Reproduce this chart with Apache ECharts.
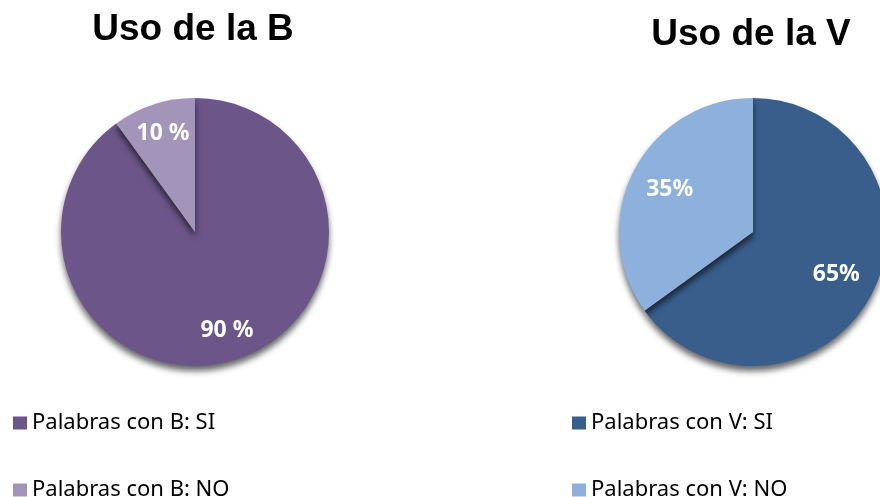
<!DOCTYPE html>
<html>
<head>
<meta charset="utf-8">
<script src="https://cdn.jsdelivr.net/npm/echarts@6/dist/echarts.min.js"></script>
<style>
  html, body { margin: 0; padding: 0; background: #fff; }
  #chart { width: 880px; height: 497px; }
</style>
</head>
<body>
<div id="chart"></div>
<script>
// data
var namesB = ['Palabras con B: SI', 'Palabras con B: NO'];
var valuesB = [90, 10];
var labelsB = ['90 %', '10 %'];
var colorsB = ['#6c5689', '#a394ba'];

var namesV = ['Palabras con V: SI', 'Palabras con V: NO'];
var valuesV = [65, 35];
var labelsV = ['65%', '35%'];
var colorsV = ['#3a5e8c', '#8db0dc'];

var R = 134;
var centerB = [195, 232];
var centerV = [753, 232];

// one legend per entry so they stack like the original
var legendRows = [
    { name: namesB[0], left: 8, top: 407 },
    { name: namesB[1], left: 8, top: 474 },
    { name: namesV[0], left: 567, top: 407 },
    { name: namesV[1], left: 567, top: 474 }
];

function pieData(names, values, colors) {
    return names.map(function (n, i) {
        return { name: n, value: values[i], itemStyle: { color: colors[i] } };
    });
}

function labelData(names, values, labels) {
    return names.map(function (n, i) {
        return { name: n, value: values[i], label: { formatter: labels[i] } };
    });
}

var dom = document.getElementById('chart');
var myChart = echarts.init(dom, null, { renderer: 'canvas' });

var option = {
    animation: false,
    title: [
        {
            text: 'Uso de la B', left: 188, top: 6, textAlign: 'center',
            textStyle: { fontFamily: 'Liberation Sans', fontWeight: 'bold', fontSize: 37, color: '#000' }
        },
        {
            text: 'Uso de la V', left: 746, top: 11, textAlign: 'center',
            textStyle: { fontFamily: 'Liberation Sans', fontWeight: 'bold', fontSize: 37, color: '#000' }
        }
    ],
    legend: legendRows.map(function (r) {
        return {
            data: [r.name], left: r.left, top: r.top,
            itemWidth: 14, itemHeight: 13, icon: 'rect', selectedMode: false,
            textStyle: { fontFamily: 'Noto Sans', fontSize: 22, color: '#000' }
        };
    }),
    series: [
        {
            type: 'pie', center: centerB, radius: [0, R], startAngle: 90,
            clockwise: true, label: { show: false }, labelLine: { show: false },
            itemStyle: { shadowColor: 'rgba(0,0,0,0.6)', shadowBlur: 6, shadowOffsetY: 5 },
            data: pieData(namesB, valuesB, colorsB)
        },
        {
            type: 'pie', center: centerV, radius: [0, R], startAngle: 90,
            clockwise: true, label: { show: false }, labelLine: { show: false },
            itemStyle: { shadowColor: 'rgba(0,0,0,0.6)', shadowBlur: 6, shadowOffsetY: 5 },
            data: pieData(namesV, valuesV, colorsV)
        },
        // label overlays (transparent ring so the labels sit further out)
        {
            type: 'pie', center: centerB, radius: [R * 0.5, R], startAngle: 90,
            silent: true, legendHoverLink: false,
            itemStyle: { color: 'rgba(0,0,0,0)' }, emphasis: { disabled: true },
            label: { show: true, position: 'inside', color: '#fff', fontFamily: 'Noto Sans', fontWeight: 'bold', fontSize: 23 },
            data: labelData(namesB, valuesB, labelsB)
        },
        {
            type: 'pie', center: centerV, radius: [R * 0.35, R], startAngle: 90,
            silent: true, legendHoverLink: false,
            itemStyle: { color: 'rgba(0,0,0,0)' }, emphasis: { disabled: true },
            label: { show: true, position: 'inside', color: '#fff', fontFamily: 'Noto Sans', fontWeight: 'bold', fontSize: 23 },
            data: labelData(namesV, valuesV, labelsV)
        }
    ]
};

myChart.setOption(option);
</script>
</body>
</html>
